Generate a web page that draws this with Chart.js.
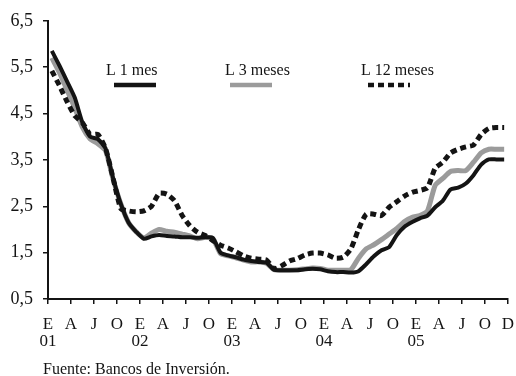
<!DOCTYPE html>
<html>
<head>
<meta charset="utf-8">
<script src="https://cdn.jsdelivr.net/npm/chart.js@4/dist/chart.umd.min.js"></script>
<style>
  html, body { margin: 0; padding: 0; background: #fff; }
  #wrap { width: 516px; height: 376px; }
</style>
</head>
<body>
<div id="wrap"><canvas id="c" width="516" height="376"></canvas></div>
<script>
// Tasas Libor mensuales, enero 2001 - diciembre 2005 (%)
const tickLetters = ['E','A','J','O','E','A','J','O','E','A','J','O','E','A','J','O','E','A','J','O','D'];
const tickYears   = ['01','','','','02','','','','03','','','','04','','','','05','','','',''];
const yTicks = [0.5, 1.5, 2.5, 3.5, 4.5, 5.5, 6.5];

const seriesNames = ['L 1 mes', 'L 3 meses', 'L 12 meses'];

const libor1 = [
  5.85, 5.53, 5.19, 4.84, 4.30, 4.00, 3.95, 3.75, 3.10, 2.55, 2.15, 1.95,
  1.80, 1.85, 1.88, 1.86, 1.85, 1.83, 1.83, 1.82, 1.83, 1.82, 1.50, 1.44,
  1.40, 1.35, 1.32, 1.30, 1.28, 1.13, 1.12, 1.12, 1.12, 1.14, 1.15, 1.14,
  1.10, 1.08, 1.08, 1.07, 1.10, 1.25, 1.42, 1.55, 1.62, 1.88, 2.06, 2.16,
  2.24, 2.30, 2.48, 2.62, 2.86, 2.90, 2.99, 3.17, 3.40, 3.51, 3.51, 3.51
];
const libor3 = [
  5.70, 5.38, 5.00, 4.62, 4.20, 3.95, 3.85, 3.70, 3.08, 2.55, 2.15, 1.95,
  1.82, 1.92, 2.00, 1.96, 1.94, 1.90, 1.86, 1.80, 1.83, 1.80, 1.48, 1.43,
  1.39, 1.34, 1.30, 1.30, 1.27, 1.13, 1.12, 1.12, 1.13, 1.15, 1.17, 1.16,
  1.12, 1.12, 1.12, 1.13, 1.38, 1.58, 1.67, 1.78, 1.90, 2.02, 2.17, 2.26,
  2.30, 2.40, 2.95, 3.10, 3.25, 3.27, 3.27, 3.45, 3.65, 3.73, 3.73, 3.73
];
const libor12 = [
  5.42, 5.10, 4.75, 4.45, 4.30, 4.05, 4.05, 3.75, 3.10, 2.45, 2.40, 2.38,
  2.40, 2.50, 2.78, 2.76, 2.62, 2.30, 2.08, 1.94, 1.87, 1.76, 1.66, 1.60,
  1.52, 1.43, 1.38, 1.36, 1.34, 1.15, 1.22, 1.32, 1.37, 1.45, 1.49, 1.49,
  1.45, 1.38, 1.40, 1.58, 2.00, 2.33, 2.33, 2.30, 2.48, 2.60, 2.72, 2.80,
  2.84, 2.90, 3.32, 3.45, 3.65, 3.73, 3.78, 3.82, 4.05, 4.18, 4.20, 4.20
];

// each month is plotted at the middle of its slot on a 0..60 month axis
const toPoints = arr => arr.map((v, i) => ({ x: i + 0.5, y: v }));

const INK = '#141414';
const GREY = '#9b9b9b';
const SERIF = '"Liberation Serif", "DejaVu Serif", serif';

// series keys drawn above the plot
const legendSamples = {
  id: 'legendSamples',
  afterDraw(chart, args, opts) {
    const ctx = chart.ctx;
    ctx.save();
    ctx.font = '16px ' + SERIF;
    ctx.fillStyle = INK;
    ctx.textAlign = 'left';
    ctx.textBaseline = 'alphabetic';
    opts.items.forEach((it, k) => {
      const ds = chart.data.datasets[it.dataset];
      ctx.fillText(seriesNames[k], it.textX, opts.textY);
      ctx.beginPath();
      ctx.lineWidth = 4.5;
      ctx.strokeStyle = ds.borderColor;
      ctx.setLineDash(ds.borderDash || []);
      ctx.lineCap = 'butt';
      ctx.moveTo(it.lineX0, opts.lineY);
      ctx.lineTo(it.lineX1, opts.lineY);
      ctx.stroke();
    });
    ctx.restore();
  }
};

const sourceNote = {
  id: 'sourceNote',
  afterDraw(chart, args, opts) {
    const ctx = chart.ctx;
    ctx.save();
    ctx.font = '16px ' + SERIF;
    ctx.fillStyle = INK;
    ctx.textAlign = 'left';
    ctx.textBaseline = 'alphabetic';
    ctx.fillText(opts.text, opts.x, opts.y);
    ctx.restore();
  }
};

new Chart(document.getElementById('c'), {
  type: 'line',
  data: {
    datasets: [
      { label: seriesNames[1], data: toPoints(libor3), borderColor: GREY, borderWidth: 5, order: 3 },
      { label: seriesNames[0], data: toPoints(libor1), borderColor: INK, borderWidth: 4, order: 2 },
      { label: seriesNames[2], data: toPoints(libor12), borderColor: INK, borderWidth: 5, borderDash: [6, 4], order: 1 }
    ]
  },
  options: {
    responsive: false,
    animation: false,
    devicePixelRatio: 1,
    layout: { padding: { top: 20, right: 8, left: 0, bottom: 0 } },
    elements: {
      point: { radius: 0 },
      line: { tension: 0.2, fill: false, borderCapStyle: 'butt', borderJoinStyle: 'round' }
    },
    plugins: {
      legend: { display: false },
      tooltip: { enabled: false },
      legendSamples: {
        textY: 75, lineY: 85,
        items: [
          { dataset: 1, textX: 106, lineX0: 114, lineX1: 156 },
          { dataset: 0, textX: 225, lineX0: 230, lineX1: 272 },
          { dataset: 2, textX: 361, lineX0: 368, lineX1: 410 }
        ]
      },
      sourceNote: { text: 'Fuente: Bancos de Inversión.', x: 43, y: 374 }
    },
    scales: {
      x: {
        type: 'linear',
        min: 0,
        max: 60,
        afterBuildTicks: scale => { scale.ticks = tickLetters.map((_, k) => ({ value: k * 3 })); },
        afterFit: scale => {
          scale.height = 77;
          scale.paddingLeft = 0;
          scale.paddingRight = 0;
        },
        ticks: {
          autoSkip: false,
          maxRotation: 0,
          padding: 12,
          color: INK,
          font: { family: SERIF, size: 17, lineHeight: 1 },
          callback: v => {
            const k = Math.round(v / 3);
            return tickYears[k] ? [tickLetters[k], tickYears[k]] : tickLetters[k];
          }
        },
        grid: { drawOnChartArea: false, drawTicks: true, tickLength: 5, color: INK, lineWidth: 1.5 },
        border: { display: true, color: INK, width: 2 }
      },
      y: {
        min: 0.5,
        max: 6.5,
        afterBuildTicks: scale => { scale.ticks = yTicks.map(v => ({ value: v })); },
        afterFit: scale => { scale.width = 48; },
        ticks: {
          padding: 10,
          color: INK,
          font: { family: SERIF, size: 18 },
          callback: v => v.toFixed(1).replace('.', ',')
        },
        grid: { drawOnChartArea: false, drawTicks: true, tickLength: 5, color: INK, lineWidth: 1.5 },
        border: { display: true, color: INK, width: 2 }
      }
    }
  },
  plugins: [legendSamples, sourceNote]
});
</script>
</body>
</html>
